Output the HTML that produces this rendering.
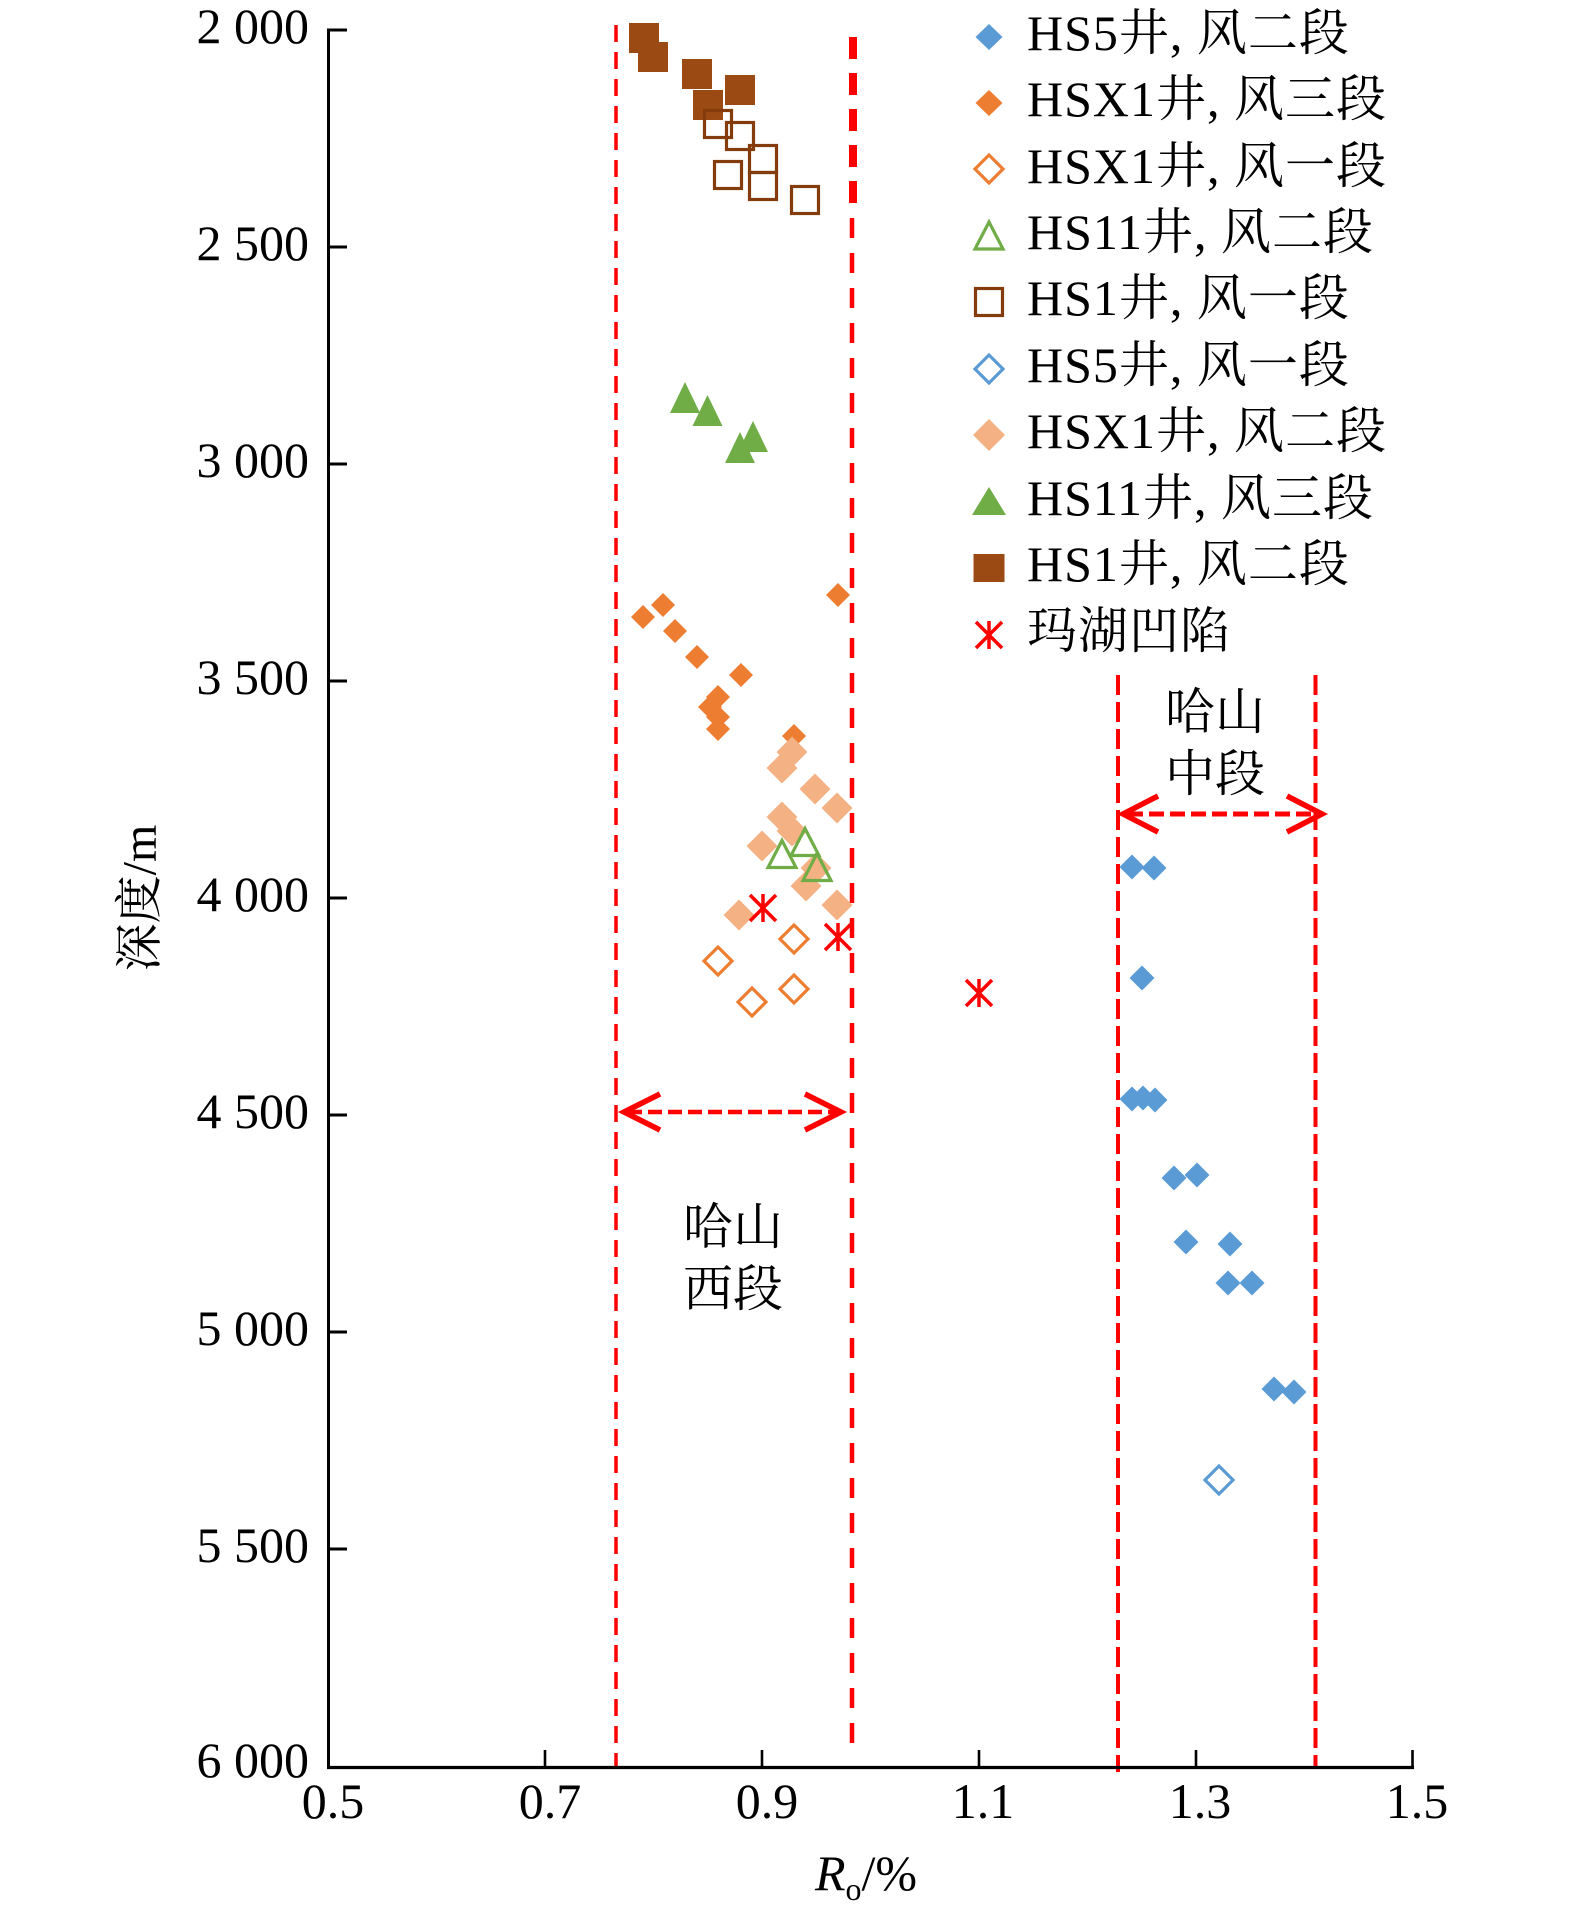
<!DOCTYPE html>
<html>
<head>
<meta charset="utf-8">
<style>
  html,body{margin:0;padding:0;background:#fff;}
  svg{display:block;}
  text{font-family:"Liberation Serif","Noto Serif CJK SC",serif;fill:#000;}
</style>
</head>
<body>
<svg width="1575" height="1917" viewBox="0 0 1575 1917" xmlns="http://www.w3.org/2000/svg">
  <defs>
    <polygon id="dB" points="0,-12.5 12.5,0 0,12.5 -12.5,0" fill="#5B9BD5"/>
    <polygon id="dO" points="0,-12 12,0 0,12 -12,0" fill="#ED7D31"/>
    <polygon id="dP" points="0,-15.5 15.5,0 0,15.5 -15.5,0" fill="#F4B183"/>
    <polygon id="hO" points="0,-14 14,0 0,14 -14,0" fill="none" stroke="#ED7D31" stroke-width="3.2"/>
    <polygon id="hB" points="0,-14 14,0 0,14 -14,0" fill="none" stroke="#5B9BD5" stroke-width="3.2"/>
    <polygon id="tG" points="0,-16 15,15 -15,15" fill="#70AD47"/>
    <polygon id="htG" points="0,-13.5 14,13.5 -14,13.5" fill="none" stroke="#70AD47" stroke-width="3.2"/>
    <rect id="sF" x="-15" y="-15" width="30" height="30" fill="#9A4A12"/>
    <rect id="sH" x="-13.5" y="-13.5" width="27" height="27" fill="none" stroke="#843C0C" stroke-width="3.2"/>
    <g id="ast" stroke="#FF0000" stroke-width="3.5" fill="none">
      <line x1="0" y1="-14" x2="0" y2="14"/>
      <line x1="-13" y1="-13" x2="13" y2="13"/>
      <line x1="-13" y1="13" x2="13" y2="-13"/>
    </g>
  </defs>

  <!-- red dashed boundary lines -->
  <line x1="616" y1="25" x2="616" y2="1767" stroke="#FF0000" stroke-width="3.5" stroke-dasharray="17 10"/>
  <line x1="853" y1="37" x2="853" y2="205" stroke="#FF0000" stroke-width="8" stroke-dasharray="22 14"/>
  <line x1="852" y1="218" x2="852" y2="1753" stroke="#FF0000" stroke-width="4.5" stroke-dasharray="20 15"/>
  <line x1="1118" y1="675" x2="1118" y2="1772" stroke="#FF0000" stroke-width="4" stroke-dasharray="20 7"/>
  <line x1="1315.5" y1="675" x2="1315.5" y2="1766" stroke="#FF0000" stroke-width="4" stroke-dasharray="20 7"/>

  <!-- arrows -->
  <g stroke="#FF0000" fill="none" stroke-width="5">
    <line x1="1128" y1="814" x2="1318" y2="814" stroke-dasharray="15 6"/>
    <polyline points="1158,796 1123,814 1158,832" stroke-width="5.5"/>
    <polyline points="1287,796 1322,814 1287,832" stroke-width="5.5"/>
    <line x1="628" y1="1112" x2="836" y2="1112" stroke-dasharray="14 6" stroke-width="4.5"/>
    <polyline points="660,1094 624,1112 660,1130" stroke-width="5.5"/>
    <polyline points="805,1094 841,1112 805,1130" stroke-width="5.5"/>
  </g>

  <!-- region labels -->
  <g font-size="50" text-anchor="middle">
    <text x="1215" y="729">哈山</text>
    <text x="1215" y="791">中段</text>
    <text x="733" y="1244">哈山</text>
    <text x="733" y="1306">西段</text>
  </g>

  <!-- HS1 风二段 filled squares -->
  <use href="#sF" x="644" y="38"/>
  <use href="#sF" x="653" y="57"/>
  <use href="#sF" x="697" y="74"/>
  <use href="#sF" x="708" y="105"/>
  <use href="#sF" x="740" y="90"/>
  <!-- HS1 风一段 hollow squares -->
  <use href="#sH" x="718" y="124"/>
  <use href="#sH" x="740" y="136"/>
  <use href="#sH" x="763" y="159"/>
  <use href="#sH" x="763" y="186"/>
  <use href="#sH" x="728" y="175"/>
  <use href="#sH" x="805" y="200"/>

  <!-- HS11 风三段 filled triangles -->
  <use href="#tG" x="685" y="398"/>
  <use href="#tG" x="707.5" y="411"/>
  <use href="#tG" x="753" y="437"/>
  <use href="#tG" x="740" y="448"/>

  <!-- HSX1 风三段 filled orange diamonds -->
  <use href="#dO" x="838" y="595"/>
  <use href="#dO" x="663" y="605"/>
  <use href="#dO" x="643" y="617"/>
  <use href="#dO" x="675" y="631"/>
  <use href="#dO" x="697" y="657"/>
  <use href="#dO" x="741" y="675"/>
  <use href="#dO" x="718" y="697"/>
  <use href="#dO" x="710" y="707"/>
  <use href="#dO" x="718" y="717"/>
  <use href="#dO" x="718" y="729"/>
  <use href="#dO" x="794" y="736"/>

  <!-- HSX1 风二段 peach diamonds -->
  <use href="#dP" x="792" y="752"/>
  <use href="#dP" x="782" y="768"/>
  <use href="#dP" x="815" y="789"/>
  <use href="#dP" x="837" y="808"/>
  <use href="#dP" x="782" y="817"/>
  <use href="#dP" x="792" y="831"/>
  <use href="#dP" x="762" y="846"/>
  <use href="#dP" x="816" y="868"/>
  <use href="#dP" x="806" y="886"/>
  <use href="#dP" x="837" y="905"/>
  <use href="#dP" x="739" y="915"/>

  <!-- HS11 风二段 hollow triangles -->
  <use href="#htG" x="782" y="854"/>
  <use href="#htG" x="805" y="842"/>
  <use href="#htG" x="817" y="867"/>

  <!-- HSX1 风一段 hollow orange diamonds -->
  <use href="#hO" x="794" y="939"/>
  <use href="#hO" x="718" y="961"/>
  <use href="#hO" x="794" y="989"/>
  <use href="#hO" x="752" y="1002"/>

  <!-- 玛湖凹陷 asterisks -->
  <use href="#ast" x="763" y="908"/>
  <use href="#ast" x="838" y="937"/>
  <use href="#ast" x="979" y="993"/>

  <!-- HS5 风二段 blue diamonds -->
  <use href="#dB" x="1132" y="867"/>
  <use href="#dB" x="1154" y="868"/>
  <use href="#dB" x="1142" y="978"/>
  <use href="#dB" x="1132" y="1099"/>
  <use href="#dB" x="1143" y="1098"/>
  <use href="#dB" x="1155" y="1100"/>
  <use href="#dB" x="1174" y="1178"/>
  <use href="#dB" x="1197" y="1175"/>
  <use href="#dB" x="1186" y="1242"/>
  <use href="#dB" x="1230" y="1244"/>
  <use href="#dB" x="1228" y="1283"/>
  <use href="#dB" x="1252" y="1283"/>
  <use href="#dB" x="1274" y="1389"/>
  <use href="#dB" x="1294" y="1392"/>
  <!-- HS5 风一段 hollow blue diamond -->
  <use href="#hB" x="1219" y="1480"/>

  <!-- axes -->
  <g stroke="#000" fill="none">
    <line x1="328.5" y1="28.5" x2="328.5" y2="1768.5" stroke-width="3"/>
    <line x1="327" y1="1767.5" x2="1414" y2="1767.5" stroke-width="3.2"/>
    <g stroke-width="3">
      <line x1="328" y1="30" x2="347" y2="30"/>
      <line x1="328" y1="247" x2="347" y2="247"/>
      <line x1="328" y1="464" x2="347" y2="464"/>
      <line x1="328" y1="681" x2="347" y2="681"/>
      <line x1="328" y1="898" x2="347" y2="898"/>
      <line x1="328" y1="1115" x2="347" y2="1115"/>
      <line x1="328" y1="1332" x2="347" y2="1332"/>
      <line x1="328" y1="1549" x2="347" y2="1549"/>
    </g>
    <g stroke-width="2.6">
      <line x1="545" y1="1750" x2="545" y2="1767"/>
      <line x1="762" y1="1750" x2="762" y2="1767"/>
      <line x1="979" y1="1750" x2="979" y2="1767"/>
      <line x1="1196" y1="1750" x2="1196" y2="1767"/>
      <line x1="1412.5" y1="1750" x2="1412.5" y2="1767"/>
    </g>
  </g>

  <!-- y tick labels -->
  <g font-size="50" text-anchor="end">
    <text x="309" y="43">2 000</text>
    <text x="309" y="260">2 500</text>
    <text x="309" y="477">3 000</text>
    <text x="309" y="694">3 500</text>
    <text x="309" y="911">4 000</text>
    <text x="309" y="1128">4 500</text>
    <text x="309" y="1345">5 000</text>
    <text x="309" y="1562">5 500</text>
    <text x="309" y="1777">6 000</text>
  </g>

  <!-- x tick labels -->
  <g font-size="50" text-anchor="middle">
    <text x="333" y="1818">0.5</text>
    <text x="550" y="1818">0.7</text>
    <text x="767" y="1818">0.9</text>
    <text x="983" y="1818">1.1</text>
    <text x="1200" y="1818">1.3</text>
    <text x="1417" y="1818">1.5</text>
  </g>

  <!-- axis titles -->
  <text x="866" y="1890" font-size="50" text-anchor="middle"><tspan font-style="italic">R</tspan><tspan font-size="32" dy="10">o</tspan><tspan dy="-10">/%</tspan></text>
  <text transform="translate(140,898) rotate(-90)" font-size="48" text-anchor="middle" dominant-baseline="central">深度/m</text>

  <!-- legend -->
  <g>
    <polygon points="989,24 1002.5,37 989,50 975.5,37" fill="#5B9BD5"/>
    <polygon points="989,90 1002.5,103 989,116 975.5,103" fill="#ED7D31"/>
    <polygon points="989,155 1003,169 989,183 975,169" fill="none" stroke="#ED7D31" stroke-width="3.2"/>
    <polygon points="989,222 1003,249 975,249" fill="none" stroke="#70AD47" stroke-width="3.2"/>
    <rect x="975.5" y="288.5" width="27" height="27" fill="none" stroke="#843C0C" stroke-width="3.2"/>
    <polygon points="989,355 1003,369 989,383 975,369" fill="none" stroke="#5B9BD5" stroke-width="3.2"/>
    <polygon points="989,419 1005,435 989,451 973,435" fill="#F4B183"/>
    <polygon points="989,487 1006,515 972,515" fill="#70AD47"/>
    <rect x="973.5" y="554" width="31" height="28" fill="#9A4A12"/>
    <g stroke="#FF0000" stroke-width="3.5">
      <line x1="989" y1="621" x2="989" y2="649"/>
      <line x1="976" y1="622" x2="1002" y2="648"/>
      <line x1="976" y1="648" x2="1002" y2="622"/>
    </g>
  </g>
  <g font-size="50" letter-spacing="1">
    <text x="1027" y="50">HS5井, 风二段</text>
    <text x="1027" y="116">HSX1井, 风三段</text>
    <text x="1027" y="183">HSX1井, 风一段</text>
    <text x="1027" y="249">HS11井, 风二段</text>
    <text x="1027" y="315">HS1井, 风一段</text>
    <text x="1027" y="382">HS5井, 风一段</text>
    <text x="1027" y="448">HSX1井, 风二段</text>
    <text x="1027" y="515">HS11井, 风三段</text>
    <text x="1027" y="581">HS1井, 风二段</text>
    <text x="1027" y="648">玛湖凹陷</text>
  </g>
</svg>
</body>
</html>
